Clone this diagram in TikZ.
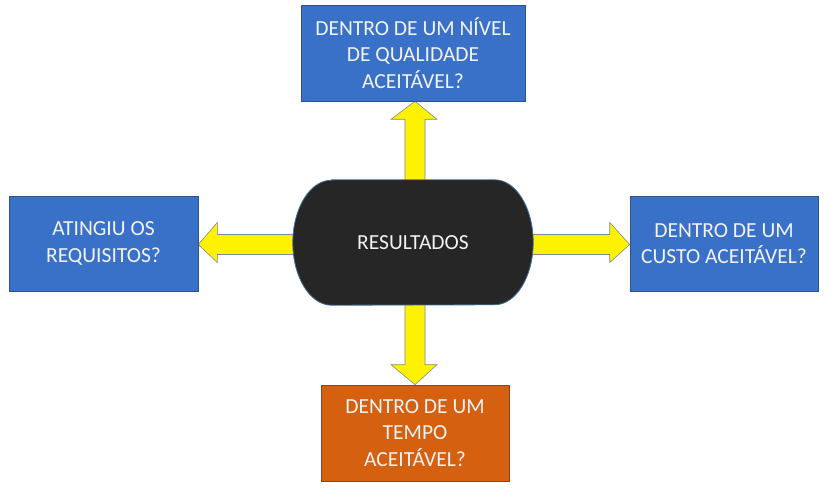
\documentclass[tikz,border=0pt]{standalone}
\usepackage{fontspec}
\setmainfont{Carlito}
\usetikzlibrary{calc}
\definecolor{boxblue}{HTML}{3A71C8}
\definecolor{boxorange}{HTML}{D5600F}
\definecolor{stad}{HTML}{262626}
\definecolor{arrowyel}{HTML}{FFF200}
\definecolor{arroweg}{HTML}{7F8C8D}
\definecolor{txt}{HTML}{F2F2F2}
\definecolor{blueedge}{HTML}{2F528F}
\definecolor{orangeedge}{HTML}{824628}
\definecolor{stadedge}{HTML}{41719C}
\pgfdeclarelayer{bg}
\pgfdeclarelayer{mid}
\pgfsetlayers{bg,mid,main}
\tikzset{
  qbox/.style={draw=blueedge, line width=0.6pt, fill=boxblue, text=txt,
    align=center, font=\fontsize{21.5}{26.5}\selectfont, inner sep=0pt},
  obox/.style={qbox, fill=boxorange, draw=orangeedge},
  stadium/.style={text=txt, font=\fontsize{21.5}{26.5}\selectfont,
    minimum width=240pt, minimum height=125pt, inner sep=0pt},
  stadshape/.style={draw=stadedge, line width=0.8pt, fill=stad},
  bigarrow/.style={fill=arrowyel, draw=arroweg, line width=0.6pt, line join=miter}
}
\begin{document}
\begin{tikzpicture}[x=1pt,y=-1pt]
\useasboundingbox (0,0) rectangle (830,489);
\node[qbox, minimum width=224pt, minimum height=96pt] (top) at (413,53)
  {DENTRO DE UM NÍVEL\\DE QUALIDADE\\ACEITÁVEL?};
\node[qbox, minimum width=189pt, minimum height=95pt] (left) at (103.5,243.5)
  {ATINGIU OS\\REQUISITOS?};
\node[qbox, minimum width=188pt, minimum height=95pt] (right) at (724,243.5)
  {DENTRO DE UM\\CUSTO ACEITÁVEL?};
\node[obox, minimum width=188pt, minimum height=96pt] (bottom) at (415,433)
  {DENTRO DE UM\\TEMPO\\ACEITÁVEL?};
\node[stadium] (c) at (413,242.5) {RESULTADOS};
\begin{pgfonlayer}{mid}
\draw[stadshape] ($(c.north west)+(38.6,0)$) -- ($(c.north east)+(-38.6,0)$)
  arc[start angle=-90, end angle=90, x radius=38.6, y radius=62.5]
  -- ($(c.south west)+(38.6,0)$)
  arc[start angle=90, end angle=270, x radius=38.6, y radius=62.5] -- cycle;
\end{pgfonlayer}
\begin{pgfonlayer}{bg}
\fill[white] (0,0) rectangle (830,489);
% up
\draw[bigarrow] ($(c.north)+(-8,20)$) -- ($(top.south)+(-8,18)$) -- ($(top.south)+(-22,18)$)
  -- ($(top.south)+(2,0)$) -- ($(top.south)+(24,18)$) -- ($(top.south)+(12,18)$)
  -- ($(c.north)+(12,20)$) -- cycle;
% down
\draw[bigarrow] ($(c.south)+(-8,-20)$) -- ($(bottom.north)+(-10,-20)$) -- ($(bottom.north)+(-24,-20)$)
  -- (bottom.north) -- ($(bottom.north)+(22,-20)$) -- ($(bottom.north)+(10,-20)$)
  -- ($(c.south)+(12,-20)$) -- cycle;
% left
\draw[bigarrow] ($(c.west)+(20,-8)$) -- ($(left.east)+(19,-9)$) -- ($(left.east)+(19,-21)$)
  -- ($(left.east)+(0,1)$) -- ($(left.east)+(19,19)$) -- ($(left.east)+(19,11)$)
  -- ($(c.west)+(20,12)$) -- cycle;
% right
\draw[bigarrow] ($(c.east)+(-20,-8)$) -- ($(right.west)+(-20,-9)$) -- ($(right.west)+(-20,-21)$)
  -- ($(right.west)+(0,1)$) -- ($(right.west)+(-20,19)$) -- ($(right.west)+(-20,11)$)
  -- ($(c.east)+(-20,12)$) -- cycle;
\end{pgfonlayer}
\end{tikzpicture}
\end{document}
